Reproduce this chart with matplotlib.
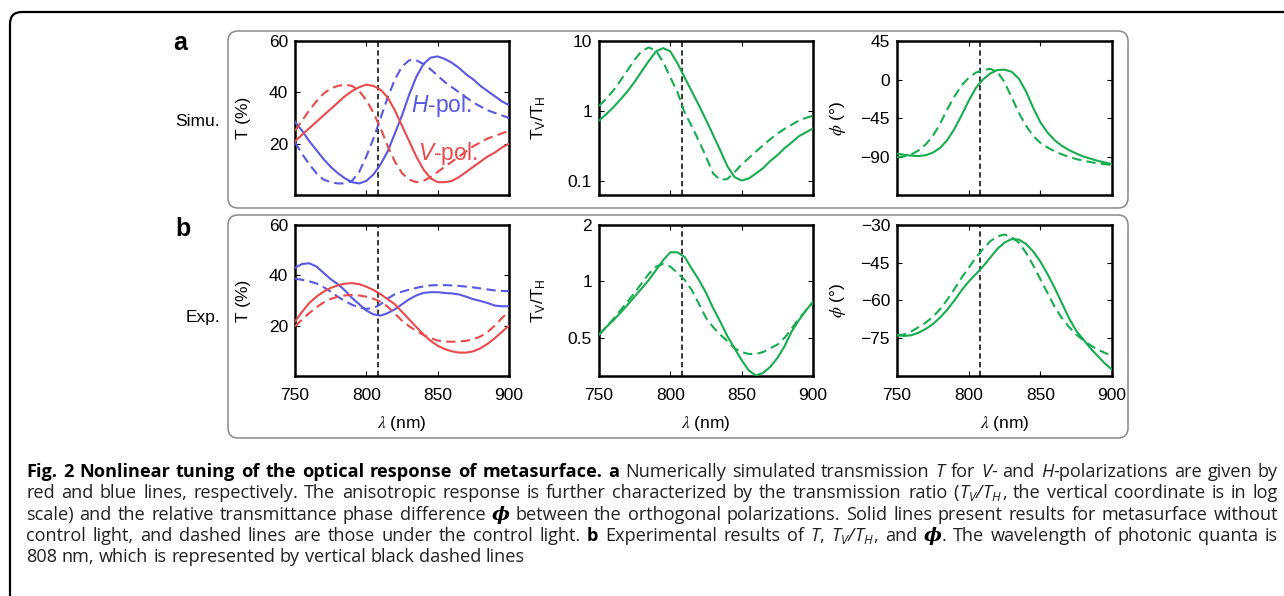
import matplotlib
matplotlib.use('Agg')
import matplotlib.pyplot as plt
from matplotlib.patches import FancyBboxPatch
from matplotlib.transforms import IdentityTransform

plt.rcParams['font.family'] = ['Liberation Sans', 'DejaVu Sans']

# wavelength grid (nm)
wl = list(range(750, 905, 5))

# a: simulated transmission T (%)
sim_h = [28.5, 25, 21, 17.5, 14, 11, 8.5, 6.5, 5, 4.5, 5.5, 8, 12, 17, 24, 31, 39, 46, 51, 53.5,
         54, 53, 51.5, 49.5, 47, 45, 42.5, 40.5, 38.5, 36.5, 35]
sim_h_ctrl = [20.5, 16, 12, 8.5, 6, 5, 4.5, 4.5, 5.5, 9, 15, 22, 30, 38, 45, 50, 52.5, 52.5, 51, 49,
              46.5, 44, 42, 40, 38, 36, 34.5, 33, 32, 31, 30]
sim_v = [21, 23.5, 26, 28.5, 31, 33.5, 36, 38.5, 40.5, 42, 43, 42.5, 41, 38, 33, 27, 21, 15, 10, 6.5,
         5, 5, 5.5, 7, 9, 11, 13, 15, 16.5, 18.5, 20]
sim_v_ctrl = [25, 29, 33, 36.5, 39.5, 41.5, 42.5, 43, 42.5, 40.5, 37, 32, 26, 19, 13, 8.5, 6, 5, 5.5, 7,
              9, 11, 13, 15, 17, 19, 20.5, 22, 23, 24, 25]
# a: simulated ratio T_V/T_H
sim_ratio = [0.72, 0.89, 1.12, 1.45, 1.9, 2.6, 3.7, 5.2, 7.1, 7.9, 7.1, 4.8, 3.0, 1.9, 1.2, 0.74, 0.45,
             0.27, 0.16, 0.112, 0.10, 0.107, 0.126, 0.15, 0.19, 0.23, 0.29, 0.35, 0.43, 0.49, 0.56]
sim_ratio_ctrl = [1.17, 1.48, 1.95, 2.7, 3.8, 5.4, 7.2, 8.1, 7.2, 5.0, 3.0, 1.85, 0.95, 0.60, 0.37, 0.22,
                  0.126, 0.102, 0.105, 0.132, 0.17, 0.21, 0.26, 0.32, 0.39, 0.47, 0.55, 0.63, 0.72, 0.79, 0.85]
# a: simulated phase difference (deg)
sim_phi = [-86.5, -88, -89, -89.5, -88.5, -85.5, -80, -71, -58, -42, -25, -10, 0, 7, 11, 11.5, 9, 1,
           -14, -33, -50, -62, -71, -77.5, -82.5, -86.5, -90, -92.5, -95, -97, -99]
sim_phi_ctrl = [-90.5, -90, -87.5, -83, -76, -66, -52, -35, -20, -7, 2, 8, 11, 12.5, 9, -3, -21, -39,
                -54, -66, -74, -79.5, -84, -87.5, -90.5, -93, -95, -96.5, -98, -99, -100]

# b: measured transmission T (%)
exp_h = [43, 44.5, 44.8, 43.5, 41, 38.5, 36.5, 34, 31, 28.5, 26, 24.5, 24, 25, 26.5, 28.5, 30.5, 32,
         33, 33.3, 33.3, 33, 32.8, 32.4, 31.5, 30.5, 29.8, 29, 28, 27.7, 27.7]
exp_h_ctrl = [38.7, 38.2, 37.6, 36.8, 35.3, 33.5, 31.5, 29.8, 28.3, 27.2, 26.7, 27, 28.5, 30.8, 32.5,
              33.5, 34.3, 35, 35.6, 36, 36.1, 36.1, 36, 35.8, 35.5, 35.2, 34.8, 34.4, 34, 33.8, 33.7]
exp_v = [21.7, 25.5, 29, 31.5, 33.5, 35, 36, 36.7, 36.9, 36.5, 35.5, 34.2, 32.5, 30.5, 28.5, 25.5,
         22.5, 19.5, 16.5, 14, 12, 10.7, 9.8, 9.3, 9.3, 9.8, 11, 12.8, 15, 17.5, 20]
exp_v_ctrl = [19.7, 22.5, 25, 27.3, 29.2, 30.6, 31.5, 32, 32.2, 32, 31.5, 30.7, 29.5, 27.5, 24.8, 22,
              19.8, 17.9, 16.3, 15, 14.1, 13.7, 13.6, 13.7, 14, 14.6, 15.7, 17.5, 20, 23, 25.7]
# b: measured ratio
exp_ratio = [0.52, 0.57, 0.62, 0.68, 0.75, 0.83, 0.92, 1.02, 1.15, 1.30, 1.43, 1.43, 1.35, 1.17, 1.02,
             0.87, 0.72, 0.61, 0.51, 0.44, 0.38, 0.335, 0.315, 0.325, 0.35, 0.39, 0.45, 0.54, 0.62, 0.70, 0.78]
exp_ratio_ctrl = [0.52, 0.57, 0.63, 0.70, 0.78, 0.87, 0.98, 1.10, 1.20, 1.24, 1.20, 1.11, 1.02, 0.90,
                  0.76, 0.64, 0.57, 0.52, 0.48, 0.44, 0.42, 0.41, 0.41, 0.42, 0.44, 0.46, 0.50, 0.56,
                  0.63, 0.70, 0.77]
# b: measured phase difference (deg)
exp_phi = [-73.7, -74.1, -73.8, -72.8, -71.3, -69.4, -66.8, -63.7, -60, -56, -52.5, -49.5, -46.5, -43,
           -39.5, -37, -35.6, -35.8, -37.5, -40.5, -44.5, -49.5, -55, -61, -67, -72, -75.5, -79, -82,
           -85, -87.5]
exp_phi_ctrl = [-74, -73.5, -72.3, -70.6, -68.8, -66.5, -63.5, -59.7, -55.5, -51, -47, -43, -39.5,
                -36.5, -34.5, -33.8, -34.8, -37, -41, -46, -51.5, -57, -62.5, -67, -70.5, -73.5, -75.8,
                -77.8, -79.5, -80.8, -82]

pump_wl = 808
xticks = [750, 800, 850, 900]

blue = '#5858e4'
red = '#ea4a4c'
green = '#17ad4f'
dash = (0, (4.5, 2.5))
fs = 12.5

W, H = 1284, 596
fig = plt.figure(figsize=(W / 100, H / 100), dpi=100)


def box(x0, y0, x1, y1, color, lw, r):
    p = FancyBboxPatch((x0, H - y1), x1 - x0, y1 - y0,
                       boxstyle='round,pad=0,rounding_size=%d' % r,
                       transform=IdentityTransform(), fc='none', ec=color, lw=lw)
    fig.add_artist(p)


box(10, 12, 1330, 650, 'black', 1.6, 12)
box(228, 31, 1128, 208, '#8a8a8a', 1.1, 10)
box(228, 215, 1128, 438, '#8a8a8a', 1.1, 10)


def make_ax(x0, x1, y0, y1):
    ax = fig.add_axes([x0 / W, 1 - y1 / H, (x1 - x0) / W, (y1 - y0) / H])
    for s in ax.spines.values():
        s.set_linewidth(1.8)
    ax.tick_params(direction='in', top=True, right=True, length=3.5, width=0.8,
                   labelsize=fs, pad=5)
    ax.tick_params(axis='x', pad=8.5)
    ax.set_xlim(750, 900)
    ax.set_xticks(xticks)
    ax.axvline(pump_wl, color='black', lw=1.1, ls=(0, (3.5, 2.2)), zorder=1)
    return ax


cols = [(295, 509), (599, 813), (897, 1112)]
rows = [(41, 195), (225, 376)]
label_off = [-44, -51, -49]

sets = [
    [(sim_h, sim_h_ctrl, blue), (sim_v, sim_v_ctrl, red)],
    [(sim_ratio, sim_ratio_ctrl, green)],
    [(sim_phi, sim_phi_ctrl, green)],
    [(exp_h, exp_h_ctrl, blue), (exp_v, exp_v_ctrl, red)],
    [(exp_ratio, exp_ratio_ctrl, green)],
    [(exp_phi, exp_phi_ctrl, green)],
]

axes = []
for r, (y0, y1) in enumerate(rows):
    for c, (x0, x1) in enumerate(cols):
        ax = make_ax(x0, x1, y0, y1)
        for solid, dashed, col in sets[r * 3 + c]:
            ax.plot(wl, solid, color=col, lw=1.5, zorder=3)
            ax.plot(wl, dashed, color=col, lw=1.5, ls=dash, zorder=3)
        if r == 0:
            ax.set_xticklabels([])
        else:
            ax.set_xlabel(r'$\lambda$ (nm)', fontsize=fs, labelpad=8, math_fontfamily='stix')
        axes.append(ax)

# transmission panels
for ax in (axes[0], axes[3]):
    ax.set_ylim(0, 60)
    ax.set_yticks([20, 40, 60])
    ax.set_ylabel('T (%)', fontsize=fs)
    ax.yaxis.set_label_coords(label_off[0] / 214, 0.5)

axes[1].set_yscale('log')
axes[1].set_ylim(0.062, 10)
axes[1].set_yticks([0.1, 1, 10])
axes[1].set_yticklabels(['0.1', '1', '10'])
axes[4].set_yscale('log')
axes[4].set_ylim(0.313, 2)
axes[4].set_yticks([0.5, 1, 2])
axes[4].set_yticklabels(['0.5', '1', '2'])
for ax in (axes[1], axes[4]):
    ax.minorticks_off()
    ax.tick_params(which='minor', length=0)
    ax.set_ylabel(r'$\mathregular{T_V/T_H}$', fontsize=fs)
    ax.yaxis.set_label_coords(label_off[1] / 214, 0.5)

axes[2].set_ylim(-135, 45)
axes[2].set_yticks([-90, -45, 0, 45])
axes[5].set_ylim(-90, -30)
axes[5].set_yticks([-75, -60, -45, -30])
for ax in (axes[2], axes[5]):
    ax.set_ylabel(r'$\phi$ (°)', fontsize=fs, math_fontfamily='stix')
    ax.yaxis.set_label_coords(label_off[2] / 215, 0.5)

plt.rcParams['mathtext.fontset'] = 'custom'
plt.rcParams['mathtext.it'] = 'Liberation Sans:italic'
plt.rcParams['mathtext.rm'] = 'Liberation Sans'

axes[0].text(831, 35, r'$\mathit{H}$-pol.', color=blue, fontsize=16.5, va='center', ha='left',
             math_fontfamily='custom')
axes[0].text(836.5, 16.3, r'$\mathit{V}$-pol.', color=red, fontsize=16.5, va='center', ha='left',
             math_fontfamily='custom')

fig.text(180 / W, 1 - 43 / H, 'a', fontsize=18, weight='bold', ha='center', va='center')
fig.text(183 / W, 1 - 229 / H, 'b', fontsize=18, weight='bold', ha='center', va='center')
fig.text(220 / W, 1 - 121 / H, 'Simu.', fontsize=fs, ha='right', va='center')
fig.text(220 / W, 1 - 318 / H, 'Exp.', fontsize=fs, ha='right', va='center')

# caption, laid out word by word with full justification
cap_lines = [
    [('Fig. 2 Nonlinear tuning of the optical response of metasurface. a', 'b'),
     (' Numerically simulated transmission ', 'n'), ('T', 'i'), (' for ', 'n'), ('V', 'i'),
     ('- and ', 'n'), ('H', 'i'), ('-polarizations are given by', 'n')],
    [('red and blue lines, respectively. The anisotropic response is further characterized by '
      'the transmission ratio (', 'n'), (r'$\mathregular{T_V/T_H}$', 'i'),
     (', the vertical coordinate is in log', 'n')],
    [('scale) and the relative transmittance phase difference ', 'n'), ('ϕ', 'p'),
     (' between the orthogonal polarizations. Solid lines present results for metasurface without', 'n')],
    [('control light, and dashed lines are those under the control light. ', 'n'), ('b', 'b'),
     (' Experimental results of ', 'n'), ('T', 'i'), (', ', 'n'), (r'$\mathregular{T_V/T_H}$', 'i'),
     (', and ', 'n'), ('ϕ', 'p'), ('. The wavelength of photonic quanta is', 'n')],
    [('808 nm, which is represented by vertical black dashed lines', 'n')],
]
txtc = '#231f20'


def styles_for(s):
    return {
        'n': dict(family='Open Sans', size=s, color=txtc),
        'b': dict(family='Open Sans', size=s, color='black', weight='bold'),
        'i': dict(family='Open Sans', size=s, color=txtc, style='italic'),
        'p': dict(family=['DejaVu Serif'], size=s * 1.05, color='black', weight='bold', style='italic'),
    }


renderer = fig.canvas.get_renderer()
x_left, x_right = 26, 1278
space_em = 0.26


def split_words(runs):
    words = [[]]
    for txt, st in runs:
        for k, part in enumerate(txt.split(' ')):
            if k > 0:
                words.append([])
            if part:
                words[-1].append((part, st))
    return [w for w in words if w]


def widths_of(words, s):
    st = styles_for(s)
    out = []
    for w in words:
        pw = []
        for part, k in w:
            t = fig.text(0, 0, part, transform=IdentityTransform(), **st[k])
            pw.append(t.get_window_extent(renderer).width)
            t.remove()
        out.append(pw)
    return out


# size the caption font so the justified lines get moderately widened spaces
s0 = 10.0
ratios = []
for runs in cap_lines[:-1]:
    ws = split_words(runs)
    nat = sum(sum(p) for p in widths_of(ws, s0)) + 1.3 * space_em * s0 * 100 / 72 * (len(ws) - 1)
    ratios.append((x_right - x_left) / nat)
cs = s0 * sum(ratios) / len(ratios)
cst = styles_for(cs)


def caption_line(runs, baseline, justify):
    words = split_words(runs)
    pw = widths_of(words, cs)
    totals = [sum(p) for p in pw]
    if justify:
        gap = (x_right - x_left - sum(totals)) / (len(words) - 1)
    else:
        gap = space_em * cs * 100 / 72
    x = x_left
    for w, p, tot in zip(words, pw, totals):
        off = 0
        for (part, k), wpx in zip(w, p):
            fig.text(x + off, H - baseline, part, transform=IdentityTransform(),
                     ha='left', va='baseline', **cst[k])
            off += wpx
        x += tot + gap


for i, runs in enumerate(cap_lines):
    caption_line(runs, 477 + 21.3 * i, i < len(cap_lines) - 1)

fig.savefig('out.png', dpi=100)
